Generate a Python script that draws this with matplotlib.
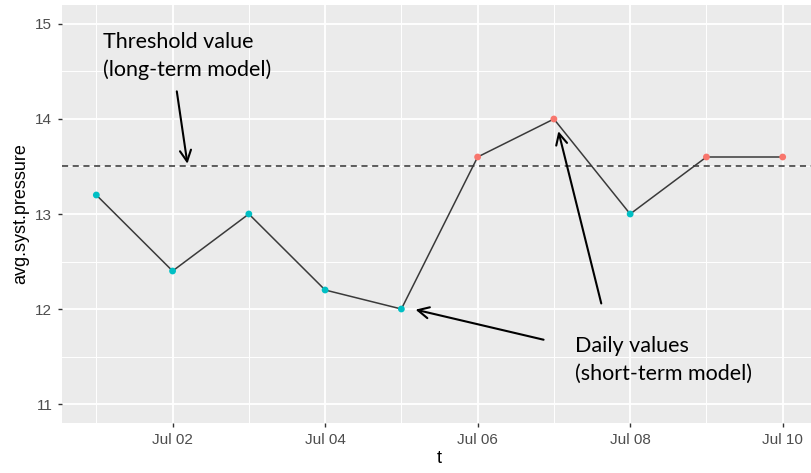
import numpy as np
import matplotlib
matplotlib.use('Agg')
import matplotlib.pyplot as plt
import matplotlib.dates as mdates
from datetime import datetime, timedelta

# data
days = ['2017-07-01', '2017-07-02', '2017-07-03', '2017-07-04', '2017-07-05',
        '2017-07-06', '2017-07-07', '2017-07-08', '2017-07-09', '2017-07-10']
pressure = [13.2, 12.4, 13.0, 12.2, 12.0, 13.6, 14.0, 13.0, 13.6, 13.6]
threshold = 13.5
y_ticks = [11, 12, 13, 14, 15]

t = [datetime.strptime(d, '%Y-%m-%d') for d in days]
above = [p > threshold for p in pressure]
colors = ['#F8766D' if a else '#00BFC4' for a in above]

fig = plt.figure(figsize=(8.12, 4.73), dpi=100)
ax = fig.add_axes([62 / 812, 50 / 473, (817 - 62) / 812, (423 - 5) / 473])
ax.set_facecolor('#EBEBEB')

# grid like ggplot
pad = timedelta(hours=0.45 * 24)
ax.set_xlim(t[0] - pad, t[-1] + pad)
ax.set_ylim(10.8, 15.2)
ax.set_yticks(y_ticks)
ax.set_yticks(np.arange(11.5, 15, 1.0), minor=True)
ax.xaxis.set_major_locator(mdates.DayLocator(bymonthday=[2, 4, 6, 8, 10]))
ax.xaxis.set_minor_locator(mdates.DayLocator(bymonthday=[1, 3, 5, 7, 9]))
ax.xaxis.set_major_formatter(mdates.DateFormatter('%b %d'))
ax.grid(which='major', color='white', linewidth=1.3)
ax.grid(which='minor', color='white', linewidth=0.7)
ax.set_axisbelow(True)
for s in ax.spines.values():
    s.set_visible(False)
ax.tick_params(which='major', length=3, width=1, color='#333333',
               labelsize=11, labelcolor='#4D4D4D', pad=4)
ax.tick_params(which='minor', length=0)
for lab in ax.get_xticklabels() + ax.get_yticklabels():
    lab.set_family('Liberation Sans')

ax.axhline(threshold, color='#333333', linestyle=(0, (4, 3)), linewidth=1.1, zorder=2)
ax.plot(t, pressure, color='#3A3A3A', linewidth=1.1, zorder=3)
ax.scatter(t, pressure, c=colors, s=24, zorder=4, linewidths=0)

ax.set_xlabel('t', fontsize=13, family='Liberation Sans', labelpad=2)
ax.set_ylabel('avg.syst.pressure', fontsize=13, family='Liberation Sans', labelpad=4)

# annotations
ann = dict(fontsize=15.5, family='Lato', color='black', va='baseline')
arrow = dict(arrowstyle='->,head_length=0.8,head_width=0.4', lw=1.5, color='black')
ax.annotate('', xy=(t[1] + timedelta(hours=0.2 * 24), threshold),
            xytext=(t[1] + timedelta(hours=0.05 * 24), 14.32), arrowprops=arrow)
fig.text(103 / 812, 1 - 48 / 473, 'Threshold value', **ann)
fig.text(103 / 812, 1 - 76 / 473, '(long-term model)', **ann)

ax.annotate('', xy=(t[4] + timedelta(hours=0.15 * 24), 12.0),
            xytext=(t[6] - timedelta(hours=0.1 * 24), 11.67), arrowprops=arrow)
ax.annotate('', xy=(t[6] + timedelta(hours=0.05 * 24), 13.9),
            xytext=(t[6] + timedelta(hours=0.63 * 24), 12.03), arrowprops=arrow)
fig.text(575 / 812, 1 - 352 / 473, 'Daily values', **ann)
fig.text(575 / 812, 1 - 380 / 473, '(short-term model)', **ann)

fig.savefig('out.png', dpi=100)
